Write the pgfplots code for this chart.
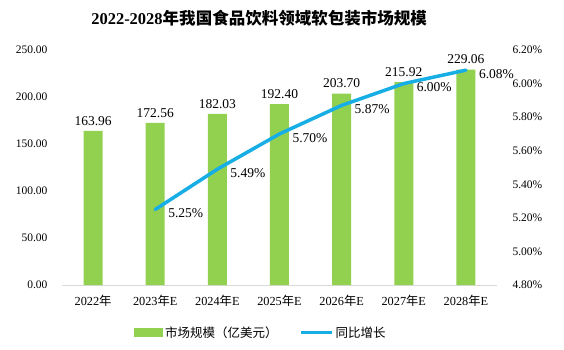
\documentclass[border=0pt]{standalone}
\usepackage{pgfplots}
\pgfplotsset{compat=1.18}
\usepackage{fontspec}
\setmainfont{Liberation Serif}
\newfontfamily\cjk{Noto Sans CJK SC}
\newfontfamily\cjkb{Noto Sans CJK SC Bold}
\definecolor{barg}{HTML}{92D050}
\definecolor{lineb}{HTML}{16AEE4}
\definecolor{axg}{HTML}{D9D9D9}
\pgfplotstableread{
x val
0 163.96
1 172.56
2 182.03
3 192.40
4 203.70
5 215.92
6 229.06
}\bars
\pgfplotstableread{
x val
1 5.25
2 5.49
3 5.70
4 5.87
5 6.00
6 6.08
}\growth
\begin{document}
\begin{tikzpicture}[x=1pt,y=1pt]
\useasboundingbox (0,0) rectangle (564,349);
\node at (259,331) {\fontsize{16.5}{18}\selectfont\bfseries 2022-2028{\cjkb 年我国食品饮料领域软包装市场规模}};
\begin{axis}[
  at={(62pt,64pt)}, anchor=south west,
  scale only axis, width=435pt, height=235pt,
  xmin=-0.5, xmax=6.5, ymin=0, ymax=250,
  ytick={0,50,100,150,200,250},
  xtick={0,...,6},
  xticklabels={2022{\cjk 年},2023{\cjk 年}E,2024{\cjk 年}E,2025{\cjk 年}E,2026{\cjk 年}E,2027{\cjk 年}E,2028{\cjk 年}E},
  axis y line*=left, axis x line*=bottom,
  y axis line style={draw=none},
  x axis line style={draw=axg, line width=1pt},
  major tick length=0pt,
  /pgf/number format/assume math mode=true,
  yticklabel={\pgfmathprintnumber[fixed,fixed zerofill,precision=2]{\tick}},
  yticklabel style={font=\fontsize{11.5}{13}\selectfont, xshift=-11pt},
  xticklabel style={font=\fontsize{12.3}{14}\selectfont, yshift=-7pt},
  legend style={draw=none, at={(0.457,-0.204)}, anchor=center, legend columns=2,
    font=\fontsize{12.5}{14}\selectfont\cjk, /tikz/every even column/.append style={column sep=20pt}},
  legend cell align=left,
  clip=false,
]
\addplot[ybar, bar width=19pt, fill=barg, draw=none,
  nodes near coords={\pgfmathprintnumber[fixed,fixed zerofill,precision=2]{\pgfplotspointmeta}},
  nodes near coords style={font=\fontsize{13.5}{15}\selectfont, text=black, yshift=2pt},
  legend image code/.code={\fill[barg] (0pt,-4.5pt) rectangle (29pt,4.5pt);}
] table[x=x,y=val] {\bars};
\addlegendentry{市场规模（亿美元）}
\addlegendimage{legend image code/.code={\draw[lineb, line width=3pt] (0pt,0pt) -- (31pt,0pt);}}
\addlegendentry{同比增长}
\end{axis}
\begin{axis}[
  at={(62pt,64pt)}, anchor=south west,
  scale only axis, width=435pt, height=235pt,
  xmin=-0.5, xmax=6.5, ymin=4.8, ymax=6.2,
  ytick={4.8,5.0,5.2,5.4,5.6,5.8,6.0,6.2},
  axis y line*=right, axis x line=none,
  y axis line style={draw=none},
  major tick length=0pt,
  /pgf/number format/assume math mode=true,
  yticklabel={\pgfmathprintnumber[fixed,fixed zerofill,precision=2]{\tick}\%},
  yticklabel style={font=\fontsize{11.5}{13}\selectfont, xshift=12pt},
  clip=false,
]
\addplot[lineb, line width=3.5pt, line join=round, line cap=round,
  nodes near coords={\pgfmathprintnumber[fixed,fixed zerofill,precision=2]{\pgfplotspointmeta}\%},
  nodes near coords style={font=\fontsize{13.5}{15}\selectfont, text=black, anchor=west, xshift=8pt, yshift=-4pt},
  point meta=explicit
] table[x=x,y=val,meta=val] {\growth};
\end{axis}
\end{tikzpicture}
\end{document}
